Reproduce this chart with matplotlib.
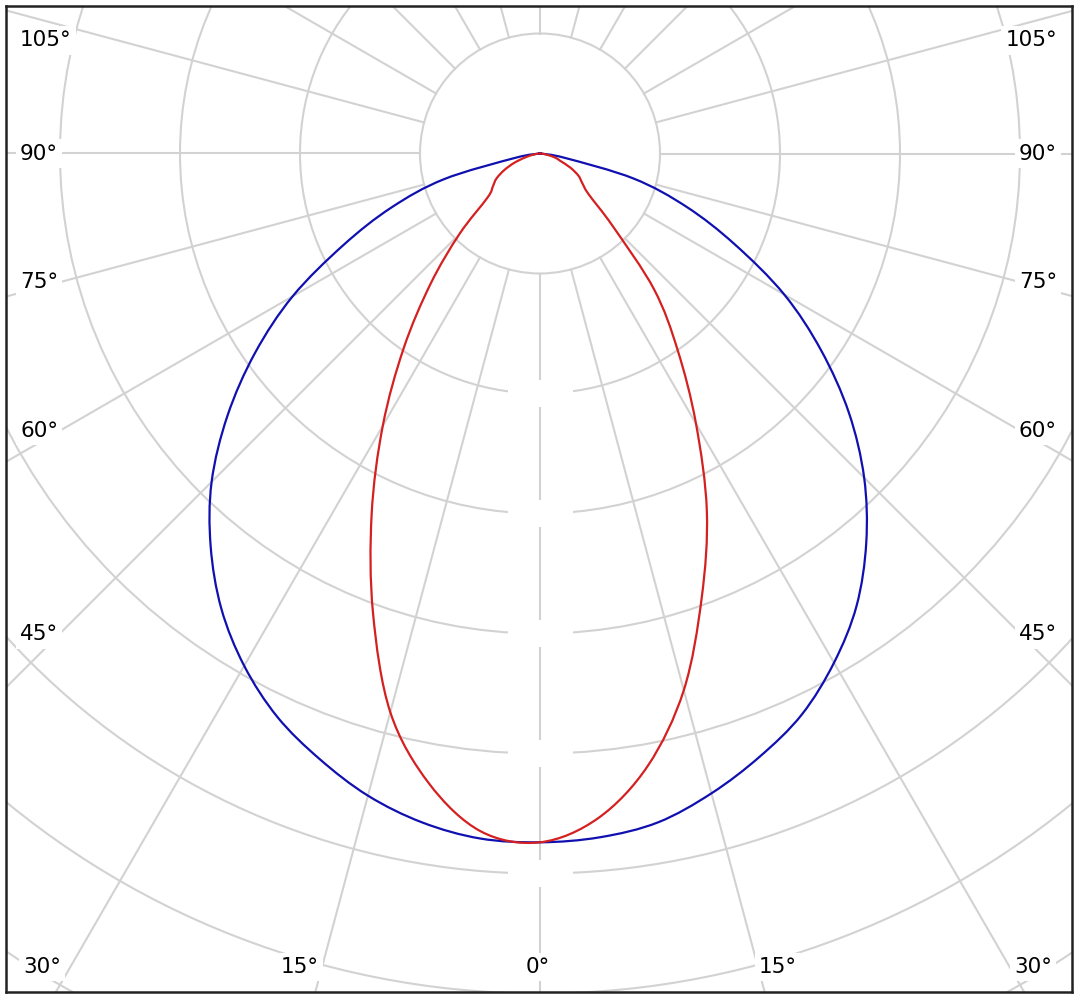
import matplotlib.pyplot as plt
import numpy as np
from matplotlib.patches import Circle, Rectangle, PathPatch
from matplotlib.path import Path

# polar light distribution, gamma measured from nadir (deg)
gamma = np.arange(0, 95, 5)
# blue curve (C0 / C180 plane)
c0_left = [574, 573, 566, 554, 537, 518, 493, 463, 427, 387, 340, 290, 238, 181, 132, 83, 21, 0, 0]
c0_right = [574, 572, 566, 552, 535, 516, 490, 460, 423, 382, 336, 286, 235, 179, 130, 81, 21, 0, 0]
# red curve (C90 / C270 plane)
c90_left = [574, 567, 533, 482, 407, 332, 262, 198, 142, 95, 57, 48, 42, 33, 23, 13, 6, 2, 0]
c90_right = [574, 556, 518, 463, 394, 329, 260, 200, 148, 86, 53, 43, 37, 28, 18, 13, 6, 2, 0]

ring_step = 100
rings = np.arange(1, 9) * ring_step
spokes = np.arange(0, 360, 15)
side_labels = [105, 90, 75, 60, 45]
bottom_labels = [30, 15, 0, 15, 30]

px = 1 / 1.2   # one pixel in data units
cy = 153.5     # centre row in pixels

fig = plt.figure(figsize=(10.78, 10), dpi=100)
ax = fig.add_axes([6 / 1078, 8 / 1000, 1066 / 1078, 986 / 1000])
ax.set_xlim(-534 * px, 532 * px)
ax.set_ylim((cy - 992) * px, (cy - 6) * px)
ax.set_xticks([])
ax.set_yticks([])
for s in ax.spines.values():
    s.set_linewidth(1.8)
    s.set_color('#222222')

grid = '#d2d2d2'
for r in rings:
    ax.add_patch(Circle((0, 0), r, fill=False, ec=grid, lw=1.5, zorder=1))
for a in spokes:
    t = np.radians(a)
    r0, r1 = ring_step, 2000
    ax.plot([r0 * np.sin(t), r1 * np.sin(t)], [-r0 * np.cos(t), -r1 * np.cos(t)],
            color=grid, lw=1.5, zorder=1)

# blank boxes on the nadir axis
bw, bh = 65 * px, 27 * px
for r in rings[1:6]:
    ax.add_patch(Rectangle((-bw / 2, -r - bh / 2), bw, bh, fc='white', ec='none', zorder=2))


def curve_path(left, right):
    th = np.radians(np.concatenate([-gamma[::-1], gamma[1:]]))
    r = np.concatenate([np.array(left)[::-1], np.array(right)[1:]])
    p = np.column_stack([r * np.sin(th), -r * np.cos(th)])
    # smooth curve through the points (catmull-rom as bezier)
    pp = np.vstack([p[:1], p, p[-1:]])
    verts = [p[0]]
    codes = [Path.MOVETO]
    for i in range(1, len(pp) - 2):
        c1 = pp[i] + (pp[i + 1] - pp[i - 1]) / 6
        c2 = pp[i + 1] - (pp[i + 2] - pp[i]) / 6
        verts += [c1, c2, pp[i + 1]]
        codes += [Path.CURVE4] * 3
    return Path(verts, codes)


ax.add_patch(PathPatch(curve_path(c0_left, c0_right), fill=False, ec='#1010b0', lw=1.6, zorder=5))
ax.add_patch(PathPatch(curve_path(c90_left, c90_right), fill=False, ec='#d42020', lw=1.6, zorder=5))

box = dict(facecolor='white', edgecolor='none', pad=3)
fs = 15.5
for a in side_labels:
    dy = 481 / np.tan(np.radians(a)) if a != 90 else 0
    dy = max(dy, -113)  # keep the top label inside the frame
    yy = -dy * px
    ax.text((20 - 540) * px, yy, f'{a}°', ha='left', va='center', fontsize=fs, bbox=box, zorder=3)
    ax.text((1057 - 540) * px, yy, f'{a}°', ha='right', va='center', fontsize=fs, bbox=box, zorder=3)

bx = [42, 300, 538, 778, 1033]
for xp, a in zip(bx, bottom_labels):
    ax.text((xp - 540) * px, (cy - 967) * px, f'{a}°', ha='center', va='center',
            fontsize=fs, bbox=box, zorder=3)

fig.savefig('out.png', dpi=100, facecolor='white')
